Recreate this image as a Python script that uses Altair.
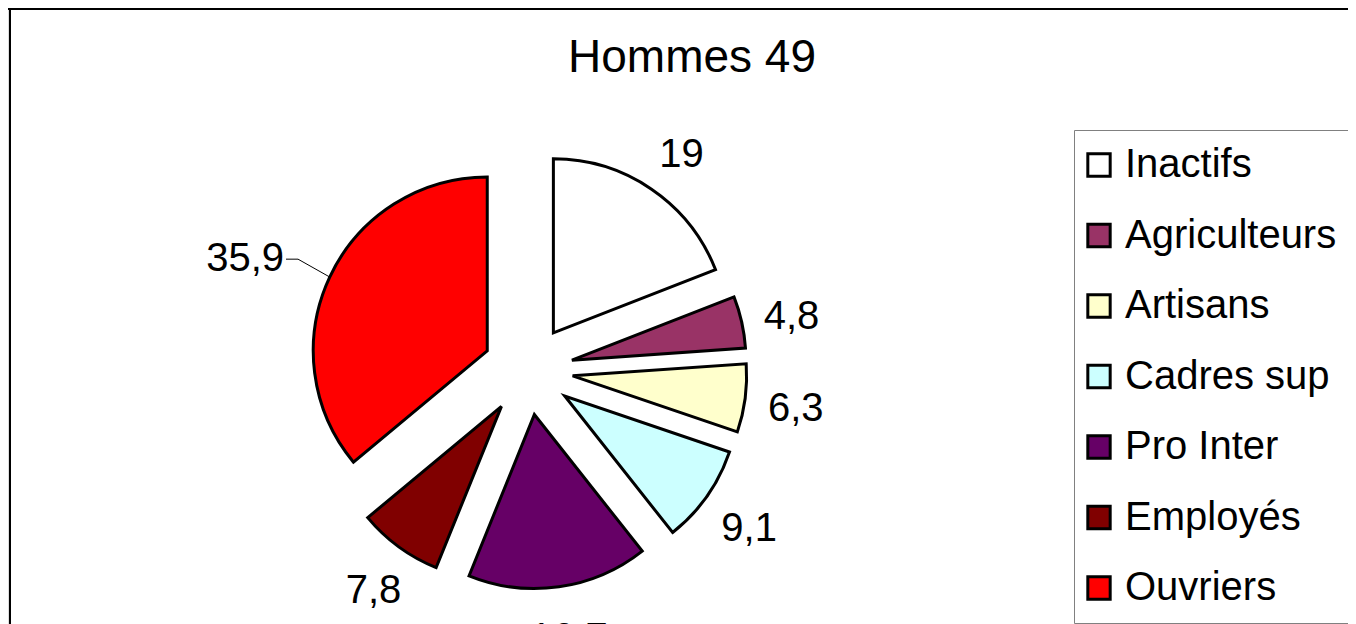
import altair as alt
import pandas as pd

title_text = ["Hommes 49"]
categories = ["Inactifs", "Agriculteurs", "Artisans", "Cadres sup", "Pro Inter", "Employés", "Ouvriers"]
values = [19, 4.8, 6.3, 9.1, 16.7, 7.8, 35.9]
labels = ["19", "4,8", "6,3", "9,1", "16,7", "7,8", "35,9"]
colors = ["#FFFFFF", "#993366", "#FFFFCC", "#CCFFFF", "#660066", "#800000", "#FF0000"]

df = pd.DataFrame({"cat": categories, "value": values, "label": labels, "idx": list(range(len(categories)))})

FONT = "Liberation Sans"
W, H = 1340, 640
CX, CY = 520, 362      # pie centre (view px)
EXPL = 45              # explosion distance
R = 174                # outer radius
RL = 222               # label distance
RE = 209               # leader elbow distance

base = (
    alt.Chart(df)
    .transform_joinaggregate(total="sum(value)")
    .transform_window(cum="sum(value)", sort=[alt.SortField("idx")], frame=[None, 0])
    .transform_calculate(
        t0="(datum.cum - datum.value) / datum.total * 2 * PI",
        t1="datum.cum / datum.total * 2 * PI",
    )
    .transform_calculate(tm="(datum.t0 + datum.t1) / 2")
    .transform_calculate(
        cx=f"{CX} + {EXPL} * sin(datum.tm)",
        cy=f"{CY} - {EXPL} * cos(datum.tm)",
    )
    .transform_calculate(
        lx=f"datum.cx + {RL} * sin(datum.tm) + 3",
        ly=f"datum.cy - {RL} * cos(datum.tm) + 5",
        ox=f"datum.cx + {R} * sin(datum.tm)",
        oy=f"datum.cy - {R} * cos(datum.tm)",
        ex=f"datum.cx + {RE} * sin(datum.tm)",
        ey=f"datum.cy - {RE} * cos(datum.tm) - 3",
    )
    .transform_calculate(ex2="datum.ex - 12", tx="datum.ex - 14")
)

legend = alt.Legend(
    orient="none", legendX=1066, legendY=122, title=None,
    symbolType="square", symbolSize=500, symbolStrokeWidth=3, symbolStrokeColor="black",
    symbolOffset=-10,
    labelFont=FONT, labelFontSize=40, labelColor="black", labelOffset=6, labelLimit=0,
    rowPadding=30.5, padding=15, strokeColor="#808080", fillColor="white",
)

arcs = base.mark_arc(outerRadius=R, stroke="black", strokeWidth=3, strokeJoin="miter").encode(
    theta=alt.Theta("t0:Q", scale=None),
    theta2="t1:Q",
    x=alt.X("cx:Q", scale=None, axis=None),
    y=alt.Y("cy:Q", scale=None, axis=None),
    color=alt.Color("cat:N", scale=alt.Scale(domain=categories, range=colors), sort=categories, legend=legend),
)

texts = base.transform_filter("datum.cat != 'Ouvriers'").mark_text(
    font=FONT, fontSize=40, color="black", align="center", baseline="middle"
).encode(
    x=alt.X("lx:Q", scale=None, axis=None),
    y=alt.Y("ly:Q", scale=None, axis=None),
    text="label:N",
)

lead = base.transform_filter("datum.cat == 'Ouvriers'")
lead_text = lead.mark_text(font=FONT, fontSize=40, color="black", align="right", baseline="middle").encode(
    x=alt.X("tx:Q", scale=None, axis=None),
    y=alt.Y("ey:Q", scale=None, axis=None),
    text="label:N",
)
lead_line1 = lead.mark_rule(color="black", strokeWidth=1).encode(
    x=alt.X("ox:Q", scale=None, axis=None), y=alt.Y("oy:Q", scale=None, axis=None),
    x2="ex:Q", y2="ey:Q",
)
lead_line2 = lead.mark_rule(color="black", strokeWidth=1).encode(
    x=alt.X("ex:Q", scale=None, axis=None), y=alt.Y("ey:Q", scale=None, axis=None),
    x2="ex2:Q", y2="ey:Q",
)

title = alt.Chart(pd.DataFrame({"t": title_text})).mark_text(
    font=FONT, fontSize=46, color="black", align="center", baseline="alphabetic"
).encode(x=alt.value(684), y=alt.value(64), text="t:N")

frame_top = alt.Chart(pd.DataFrame({"a": [0]})).mark_rule(color="black", strokeWidth=2).encode(
    x=alt.value(0), x2=alt.value(W), y=alt.value(1), y2=alt.value(1)
)
frame_left = alt.Chart(pd.DataFrame({"a": [0]})).mark_rule(color="black", strokeWidth=2).encode(
    x=alt.value(2), x2=alt.value(2), y=alt.value(0), y2=alt.value(H)
)

chart = (
    alt.layer(frame_top, frame_left, arcs, texts, lead_line1, lead_line2, lead_text, title)
    .properties(width=W, height=H, autosize=alt.AutoSizeParams(type="none"), padding=0)
    .configure_view(stroke=None)
    .configure(background="white")
)

chart.save("out.html", embed_options={"renderer": "svg", "actions": False})
